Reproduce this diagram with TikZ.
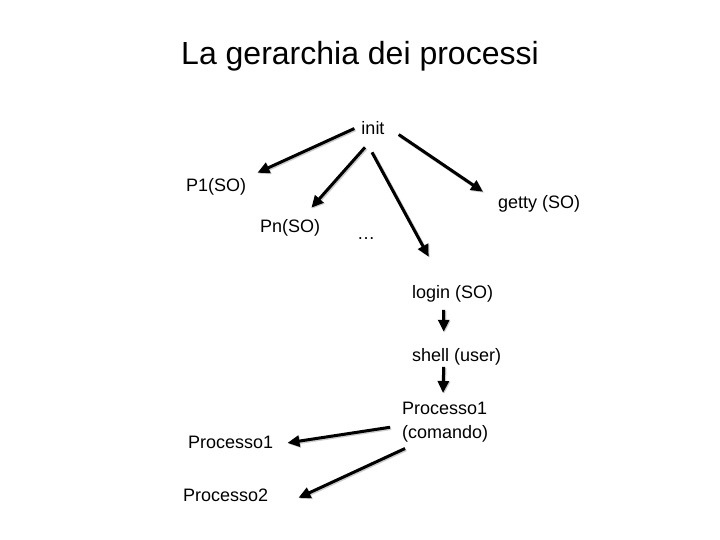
\documentclass[tikz,border=0pt]{standalone}
\usepackage{fontspec}
\setmainfont{Liberation Sans}
\usetikzlibrary{arrows.meta}
\begin{document}
\begin{tikzpicture}[x=1pt,y=-1pt,
  lbl/.style={inner sep=0pt,font=\fontsize{18}{24}\selectfont},
  arr/.style={line width=3pt,-{Triangle[length=12pt,width=11pt]},
    preaction={draw=black!20,line width=3.5pt,transform canvas={shift={(1pt,-1pt)}}}}]
\useasboundingbox[fill=white] (0,0) rectangle (720,540);
\node[inner sep=0pt,anchor=base,font=\fontsize{32}{38}\selectfont] (title) at (360,65) {La gerarchia dei processi};
\node[lbl,anchor=base] (init) at (373,135) {init};
\node[lbl,anchor=base west] (p1) at (186,192) {P1(SO)};
\node[lbl,anchor=base west] (pn) at (260,233) {Pn(SO)};
\node[lbl,anchor=base west] (dots) at (357,240) {\dots};
\node[lbl,anchor=base west] (getty) at (498,208) {getty (SO)};
\node[lbl,anchor=base west] (login) at (412,298) {login (SO)};
\node[lbl,anchor=base west] (shell) at (412,361) {shell (user)};
\node[lbl,anchor=north west,align=left] (pc) at (402,402) {Processo1\\(comando)};
\node[lbl,anchor=base west] (pr1) at (188,448) {Processo1};
\node[lbl,anchor=base west] (pr2) at (183,501) {Processo2};
\draw[arr] ([xshift=-7pt]init.west) -- ([shift={(11,-6)}]p1.north east);
\draw[arr] ([shift={(-8,12)}]init.south) -- ([shift={(-9,-12)}]pn.north east);
\draw[arr] ([shift={(-1,17)}]init.south) -- ([shift={(-24,-28)}]login.north);
\draw[arr] ([shift={(14,6)}]init.east) -- ([shift={(-15,-3)}]getty.north west);
\draw[arr] ([shift={(-9,8)}]login.south) -- ([shift={(-13,-16)}]shell.north);
\draw[arr] ([shift={(-13,2)}]shell.south) -- ([shift={(41,-9)}]pc.north west);
\draw[arr] ([shift={(-12,5)}]pc.west) -- ([shift={(14,1)}]pr1.east);
\draw[arr] ([shift={(3,6)}]pc.south west) -- ([shift={(30,3)}]pr2.east);
\end{tikzpicture}
\end{document}
